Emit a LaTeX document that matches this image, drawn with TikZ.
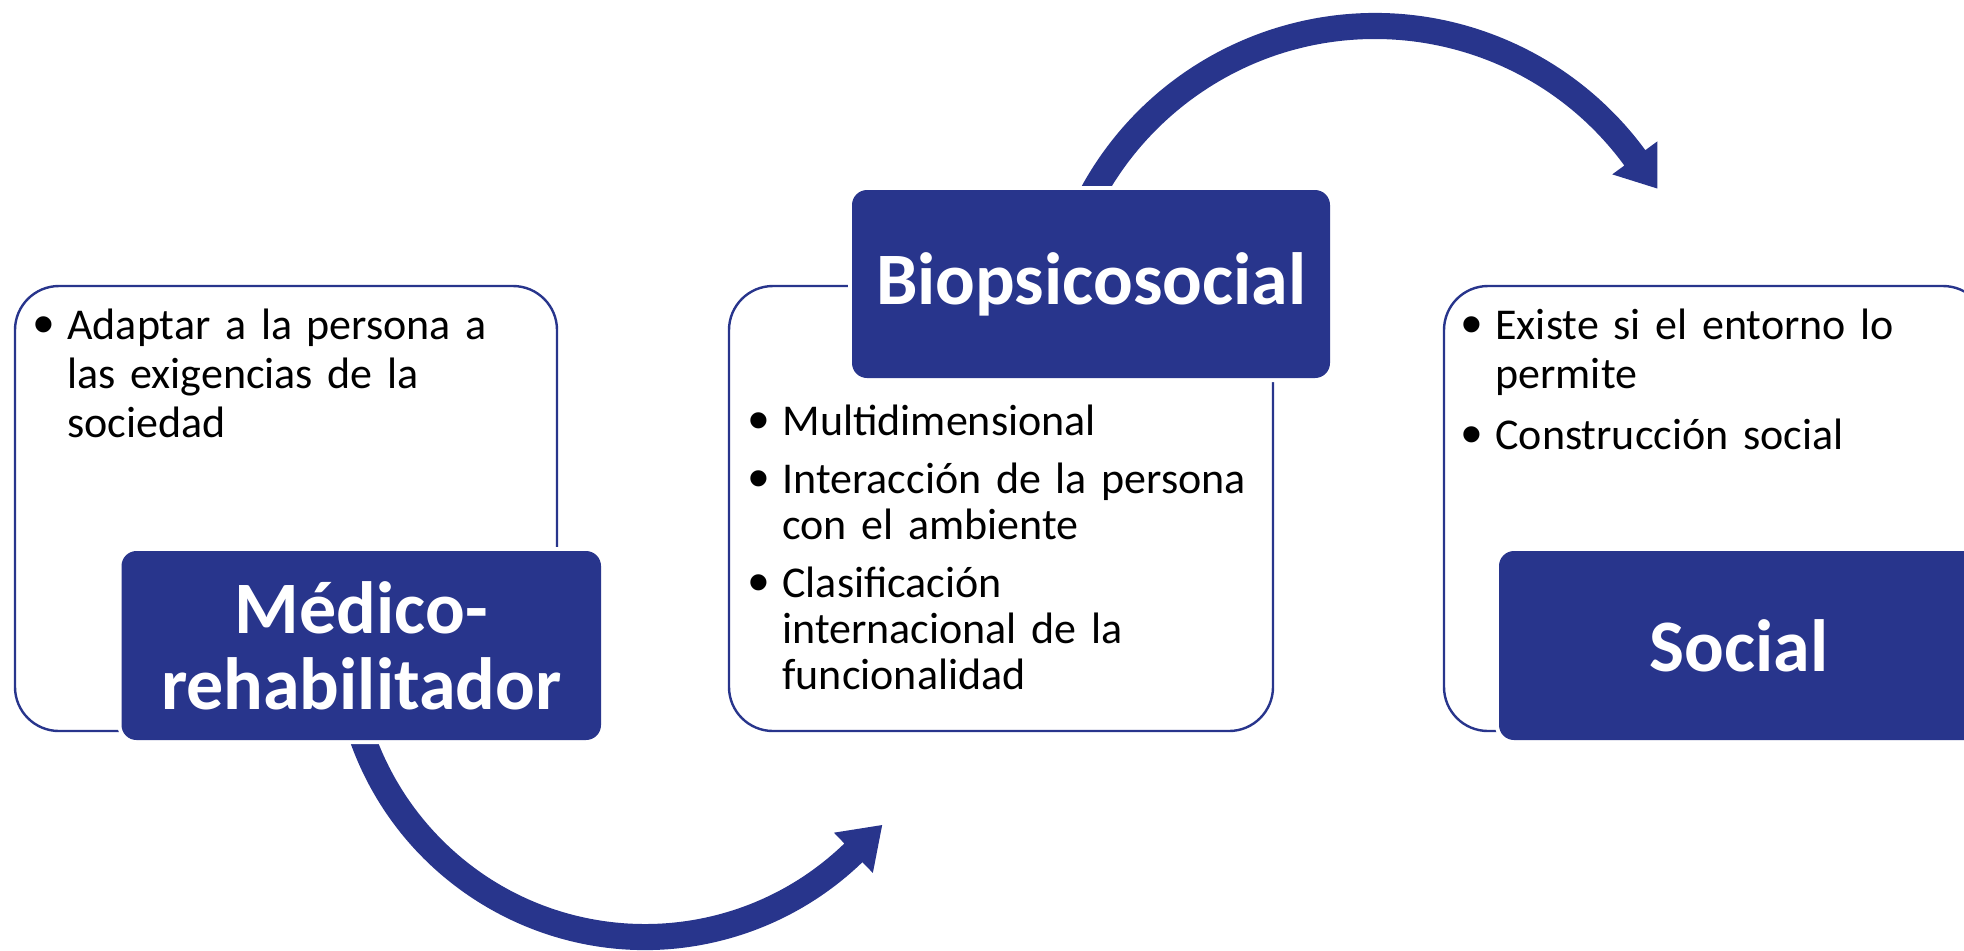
\documentclass[tikz,border=0pt]{standalone}
\usepackage{fontspec}
\usepackage{graphicx}
\setmainfont{Carlito}
\newfontfamily\bulfont{Liberation Sans}
\usetikzlibrary{calc}
\definecolor{dblue}{RGB}{40,53,140}
\newcommand\mybul{\makebox[17pt][l]{\raisebox{-2.6pt}{\scalebox{1.35}{\bulfont\textbullet}}}}
\newcommand\myind{\hspace*{17pt}}
\begin{document}
\begin{tikzpicture}[x=0.5pt,y=-0.5pt,
  infobox/.style={draw=dblue, line width=1.2pt, fill=white, rounded corners=22pt, inner sep=0pt},
  titlebox/.style={fill=dblue, rounded corners=7.5pt, preaction={draw=white, line width=4pt},
    text=white, font=\fontsize{37}{38}\selectfont\bfseries, align=center, inner sep=0pt},
  itemtext/.style={anchor=base west, inner sep=0pt, text width=262pt, align=left,
    font=\fontsize{22}{24.5}\selectfont},
  bigarrow/.style={fill=dblue, draw=none}
]
\clip (0,0) rectangle (1964,950);
% white information boxes
\node[infobox, minimum width=271pt, minimum height=222.5pt] (medinfo) at (286,508.5) {};
\node[infobox, minimum width=272pt, minimum height=222.5pt] (bioinfo) at (1001,508.5) {};
\node[infobox, minimum width=271.5pt, minimum height=222.5pt] (socinfo) at (1715.5,508.5) {};
% curved arrows
\coordinate (cb) at (645,637);
\coordinate (ct) at (1375,348);
\fill[bigarrow] ($(cb)+(162:313)$) arc[start angle=162, end angle=46, radius=313]
  -- ($(cb)+(46:328)$) -- ($(cb)+(46:300)+(-44:40)$) -- ($(cb)+(46:272)$)
  -- ($(cb)+(46:287)$) arc[start angle=46, end angle=162, radius=287] -- cycle;
\fill[bigarrow] ($(ct)+(204:335)$) arc[start angle=204, end angle=323.8, radius=335]
  -- ($(ct)+(323.8:350)$) -- ($(ct)+(323.8:322)+(53.8:38)$) -- ($(ct)+(323.8:294)$)
  -- ($(ct)+(323.8:309)$) arc[start angle=323.8, end angle=204, radius=309] -- cycle;
% title boxes
\node[titlebox, minimum width=239.75pt, minimum height=94.5pt] (med) at (361.25,645.5) {Médico-\\rehabilitador};
\node[titlebox, minimum width=239pt, minimum height=94pt] (bio) at (1091,284) {Biopsicosocial};
\node[titlebox, minimum width=240pt, minimum height=94.5pt] (soc) at (1739,645.5) {Social};
% bullet texts
\node[itemtext] (medtxt) at (33,339) {\mybul Adaptar a la persona a\\\myind las exigencias de la\\\myind sociedad};
\node[itemtext, font=\fontsize{22}{23}\selectfont] (biotxt) at (748,435) {\mybul Multidimensional\\[6pt]\mybul Interacción de la persona\\\myind con el ambiente\\[6pt]\mybul Clasificación\\\myind internacional de la\\\myind funcionalidad};
\node[itemtext] (soctxt) at (1461,339) {\mybul Existe si el entorno lo\\\myind permite\\[6pt]\mybul Construcción social};
\end{tikzpicture}
\end{document}
